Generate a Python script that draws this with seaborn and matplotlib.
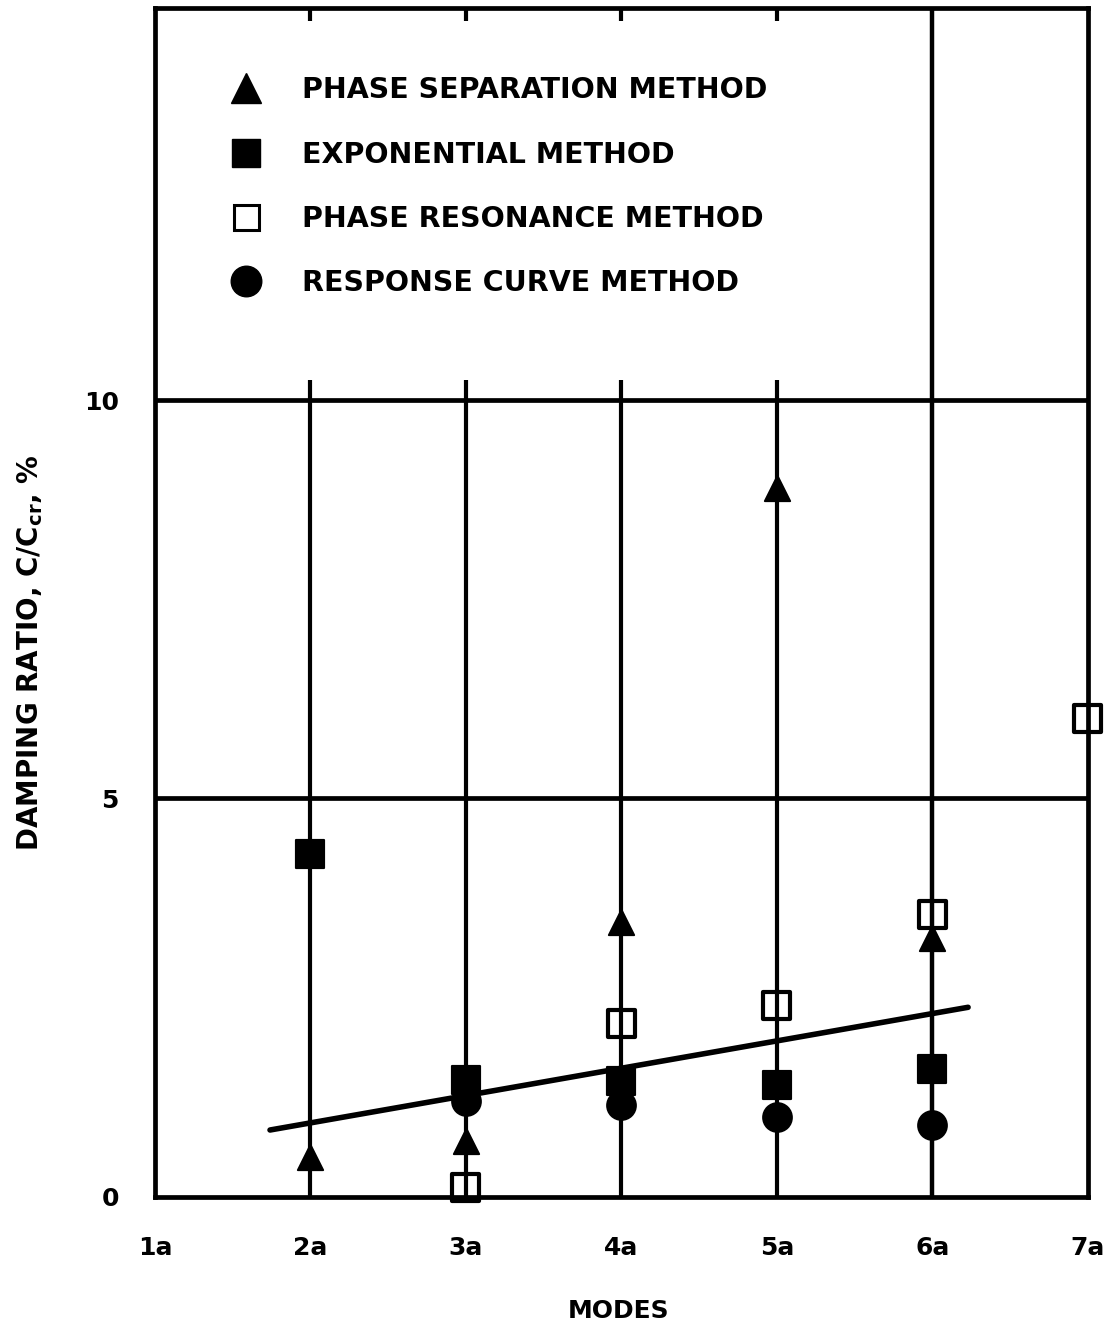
import matplotlib
matplotlib.use('Agg')
import matplotlib.pyplot as plt
from matplotlib.lines import Line2D
import numpy as np
import pandas as pd
import seaborn as sns

# mode labels on the x axis
modes = ['1a', '2a', '3a', '4a', '5a', '6a', '7a']

# damping ratio (%) read per method
phase_sep_modes = ['2a', '3a', '4a', '5a', '6a']
phase_sep_vals = [0.5, 0.7, 3.45, 8.9, 3.25]

exponential_modes = ['2a', '3a', '4a', '5a', '6a']
exponential_vals = [4.3, 1.47, 1.45, 1.4, 1.6]

phase_res_modes = ['3a', '4a', '5a', '6a', '7a']
phase_res_vals = [0.12, 2.18, 2.4, 3.55, 6.0]

response_modes = ['3a', '4a', '5a', '6a']
response_vals = [1.2, 1.15, 1.0, 0.9]

# faired trend line end points (mode position, damping %)
fit_x = [1.74, 6.23]
fit_y = [0.84, 2.38]

methods = ['PHASE SEPARATION METHOD', 'EXPONENTIAL METHOD',
           'PHASE RESONANCE METHOD', 'RESPONSE CURVE METHOD']


def to_df(mode_list, vals, method):
    return pd.DataFrame({'mode': [modes.index(m) + 1 for m in mode_list],
                         'damping': vals, 'method': method})


df = pd.concat([
    to_df(phase_sep_modes, phase_sep_vals, methods[0]),
    to_df(exponential_modes, exponential_vals, methods[1]),
    to_df(phase_res_modes, phase_res_vals, methods[2]),
    to_df(response_modes, response_vals, methods[3]),
], ignore_index=True)

sns.set_style('white')
plt.rcParams['font.family'] = ['DejaVu Sans']
plt.rcParams['font.weight'] = 'bold'
plt.rcParams['text.color'] = 'black'
plt.rcParams['axes.labelcolor'] = 'black'
plt.rcParams['xtick.color'] = 'black'
plt.rcParams['ytick.color'] = 'black'

fig = plt.figure(figsize=(11.18, 13.27), dpi=100)
ax = fig.add_axes([0.1386, 0.098, 0.973 - 0.1386, 0.994 - 0.098])

LW = 3.4
ymax = 14.92

# grid-ish structure of the original chart
for yv in [5, 10]:
    ax.axhline(yv, color='black', lw=LW, zorder=1)
for m in modes[1:5]:
    ax.vlines(modes.index(m) + 1, 0, 10.25, color='black', lw=3.0, zorder=1)
ax.vlines(6, 0, ymax, color='black', lw=3.2, zorder=1)

sns.lineplot(x=fit_x, y=fit_y, color='black', lw=4, ax=ax, zorder=2,
             solid_capstyle='round')

styles = {
    methods[0]: dict(marker='^', s=330, color='black', edgecolor='black'),
    methods[1]: dict(marker='s', s=380, color='black', edgecolor='black'),
    methods[2]: dict(marker='s', s=380, color='black', facecolor='none',
                     edgecolor='black', linewidth=3),
    methods[3]: dict(marker='o', s=420, color='black', edgecolor='black'),
}
for meth in methods:
    sub = df[df['method'] == meth]
    sns.scatterplot(data=sub, x='mode', y='damping', ax=ax, zorder=3,
                    legend=False, clip_on=False, **styles[meth])

ax.set_xlim(1, 7)
ax.set_ylim(0, ymax)
ax.set_xticks(range(1, 8))
ax.set_xticklabels(modes)
ax.set_yticks([0, 5, 10])
ax.set_yticklabels(['0', '5', '10'])
ax.tick_params(axis='x', length=0, pad=28, labelsize=18)
ax.tick_params(axis='y', length=0, pad=26, labelsize=18)
for lab in ax.get_xticklabels() + ax.get_yticklabels():
    lab.set_fontweight('bold')

top = ax.secondary_xaxis('top')
top.set_xticks([2, 3, 4, 5])
top.tick_params(direction='in', length=9, width=3, labeltop=False)
top.spines['top'].set_visible(False)

for sp in ax.spines.values():
    sp.set_linewidth(LW)
    sp.set_color('black')
    sp.set_visible(True)

ax.set_xlabel('MODES', fontsize=18, fontweight='bold')
ax.set_ylabel(r'DAMPING RATIO, C/C$_{\mathbf{cr}}$, %', fontsize=20,
              fontweight='bold')
ax.xaxis.set_label_coords(0.497, -0.086)
ax.yaxis.set_label_coords(-0.118, 0.458)

handles = [
    Line2D([], [], ls='none', marker='^', ms=22, color='black'),
    Line2D([], [], ls='none', marker='s', ms=20, color='black'),
    Line2D([], [], ls='none', marker='s', ms=18, mfc='none', mec='black', mew=2.2),
    Line2D([], [], ls='none', marker='o', ms=22, color='black'),
]
leg = ax.legend(handles, methods, loc='upper left', bbox_to_anchor=(0.04, 0.964),
                frameon=False, handletextpad=0.95, labelspacing=1.27,
                prop={'size': 20.5, 'weight': 'bold'})

fig.savefig('out.png', dpi=100)
